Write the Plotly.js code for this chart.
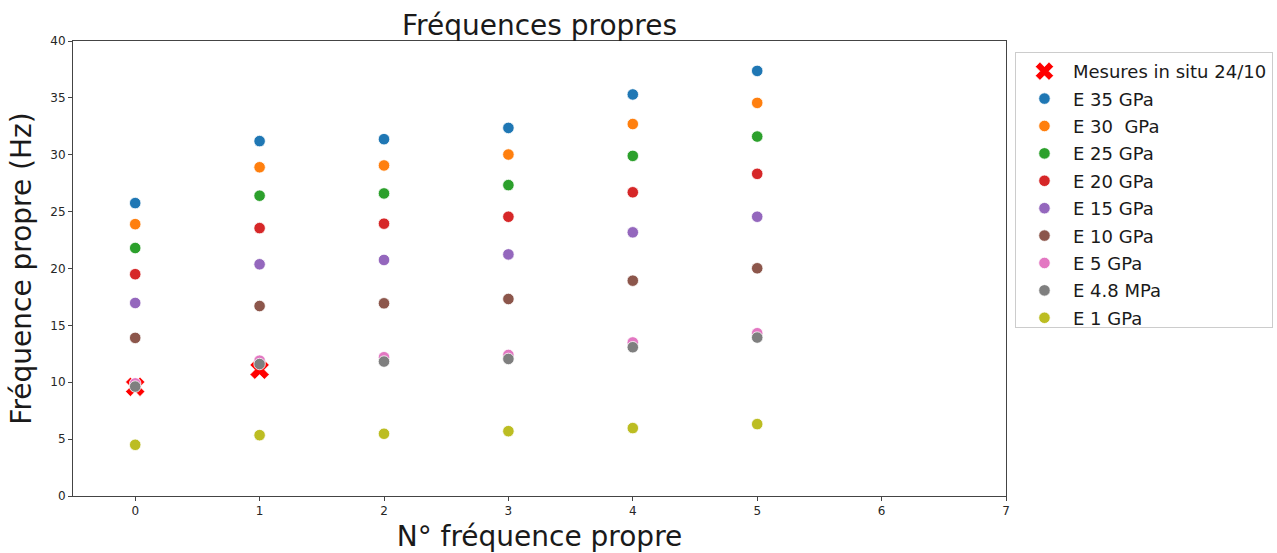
<!DOCTYPE html>
<html>
<head>
<meta charset="utf-8">
<script src="https://cdn.plot.ly/plotly-3.0.1.min.js"></script>
<style>html,body{margin:0;padding:0;background:#fff;}</style>
</head>
<body>
<div id="chart" style="width:1277px;height:553px;"></div>
<script>
const modes = [0, 1, 2, 3, 4, 5];
const mesuresX = [0, 1];
const mesuresY = [9.6, 11.1];
const seriesNames = ["E 35 GPa", "E 30  GPa", "E 25 GPa", "E 20 GPa", "E 15 GPa", "E 10 GPa", "E 5 GPa", "E 4.8 MPa", "E 1 GPa"];
const seriesColors = ["#1f77b4", "#ff7f0e", "#2ca02c", "#d62728", "#9467bd", "#8c564b", "#e377c2", "#7f7f7f", "#bcbd22"];
const e35 = [25.75, 31.2, 31.37, 32.36, 35.3, 37.37];
const e30 = [23.9, 28.9, 29.06, 30.02, 32.7, 34.56];
const e25 = [21.8, 26.4, 26.6, 27.33, 29.9, 31.6];
const e20 = [19.5, 23.55, 23.94, 24.55, 26.7, 28.32];
const e15 = [16.97, 20.37, 20.75, 21.24, 23.18, 24.55];
const e10 = [13.9, 16.7, 16.94, 17.32, 18.93, 20.02];
const e5 = [9.9, 11.9, 12.2, 12.4, 13.5, 14.31];
const e48 = [9.62, 11.6, 11.82, 12.05, 13.08, 13.93];
const e1 = [4.5, 5.35, 5.47, 5.7, 5.97, 6.32];
const seriesValues = [e35, e30, e25, e20, e15, e10, e5, e48, e1];

const traces = [{
  x: mesuresX, y: mesuresY, type: "scatter", mode: "markers",
  name: "Mesures in situ 24/10", legendgroup: "m",
  marker: {symbol: "x", size: 17, color: "#ff0000", line: {color: "#ffffff", width: 0.6}}
}];
seriesNames.forEach((n, i) => {
  traces.push({
    x: modes, y: seriesValues[i], type: "scatter", mode: "markers",
    name: n, legendgroup: "g" + i,
    marker: {symbol: "circle", size: 11.5, color: seriesColors[i], line: {color: "#ffffff", width: 0.8}}
  });
});

const layout = {
  width: 1277, height: 553,
  margin: {l: 73, r: 271, t: 41, b: 57},
  paper_bgcolor: "#ffffff", plot_bgcolor: "#ffffff",
  font: {family: "DejaVu Sans, sans-serif", color: "#1a1a1a"},
  title: {text: "Fréquences propres", font: {size: 28, color: "#1a1a1a"}, x: 0.4225, xanchor: "center", y: 0.955, yanchor: "middle"},
  xaxis: {
    range: [-0.5, 7], tickmode: "array", tickvals: [0,1,2,3,4,5,6,7],
    showgrid: false, zeroline: false, showline: true, mirror: true, linecolor: "#444", linewidth: 1,
    ticks: "outside", ticklen: 4, tickcolor: "#444", tickfont: {size: 12, color: "#262626"},
    title: {text: "N° fréquence propre", font: {size: 28, color: "#1a1a1a"}, standoff: 10}
  },
  yaxis: {
    range: [0, 40], tickmode: "array", tickvals: [0,5,10,15,20,25,30,35,40],
    showgrid: false, zeroline: false, showline: true, mirror: true, linecolor: "#444", linewidth: 1,
    ticks: "outside", ticklen: 4, tickcolor: "#444", tickfont: {size: 12, color: "#262626"},
    title: {text: "Fréquence propre (Hz)", font: {size: 28, color: "#1a1a1a"}, standoff: 10}
  },
  showlegend: true,
  legend: {
    xref: "container", yref: "container",
    x: 0.7948, xanchor: "left", y: 0.906, yanchor: "top",
    bordercolor: "#cccccc", borderwidth: 1, bgcolor: "#ffffff",
    font: {size: 18, color: "#1a1a1a"}, tracegroupgap: 1, itemwidth: 47
  }
};

Plotly.newPlot("chart", traces, layout, {displayModeBar: false, staticPlot: true});
</script>
</body>
</html>
